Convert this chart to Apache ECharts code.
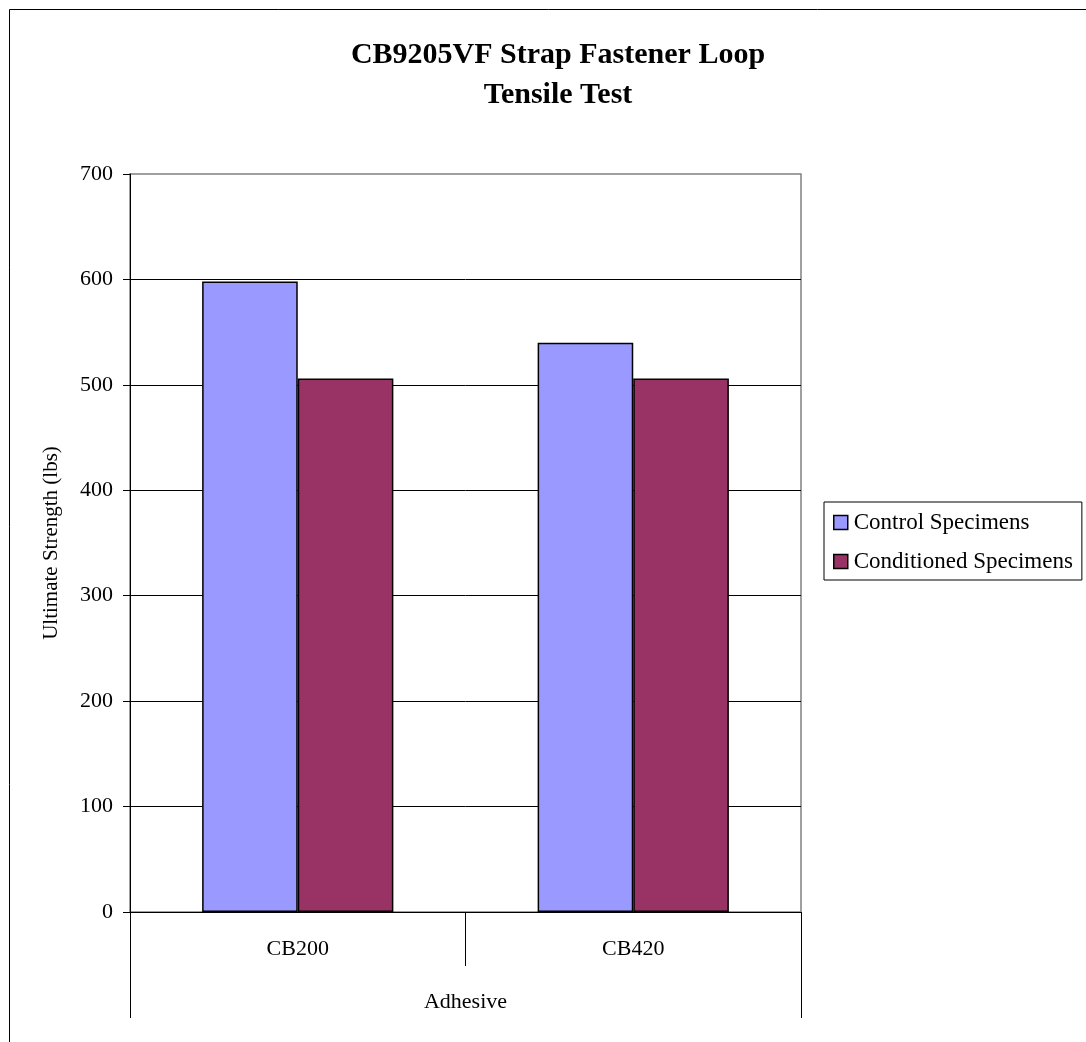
<!DOCTYPE html>
<html>
<head>
<meta charset="utf-8">
<script src="https://cdn.jsdelivr.net/npm/echarts@6/dist/echarts.min.js"></script>
<style>
  html, body { margin: 0; padding: 0; background: #fff; }
  #chart { width: 1086px; height: 1042px; }
</style>
</head>
<body>
<div id="chart"></div>
<script>
// Adhesive groups on the category axis
const categories = ['CB200', 'CB420'];
// Ultimate strength in lbs per specimen set
const controlSpecimens = [598, 540];
const conditionedSpecimens = [506, 506];
// Value axis range
const yMin = 0, yMax = 700, yStep = 100;

const serif = '"Liberation Serif", "Times New Roman", serif';
const chart = echarts.init(document.getElementById('chart'));

chart.setOption({
  backgroundColor: '#fff',
  animation: false,
  title: {
    text: 'CB9205VF Strap Fastener Loop\nTensile Test',
    left: 553, top: 30, textAlign: 'center',
    textStyle: { fontFamily: serif, fontSize: 30, fontWeight: 'bold', color: '#000', lineHeight: 40 }
  },
  legend: {
    orient: 'vertical',
    left: 824, top: 502,
    padding: [9, 9, 7, 9],
    itemGap: 16,
    itemWidth: 14, itemHeight: 14,
    borderColor: '#000', borderWidth: 1,
    icon: 'rect',
    itemStyle: { borderColor: '#000', borderWidth: 1.5 },
    textStyle: { fontFamily: serif, fontSize: 23, color: '#000', padding: [0, 0, 0, 1] },
    data: ['Control Specimens', 'Conditioned Specimens']
  },
  grid: {
    left: 130, right: 285, top: 174, bottom: 130,
    show: true, borderColor: '#808080', borderWidth: 1.5
  },
  xAxis: [
    {
      type: 'category',
      data: categories,
      axisLine: { lineStyle: { color: '#000', width: 1 } },
      axisTick: { show: true, length: 54, inside: false, alignWithLabel: false, lineStyle: { color: '#000' } },
      axisLabel: { fontFamily: serif, fontSize: 22, color: '#000', margin: 26 }
    },
    {
      type: 'category',
      position: 'bottom',
      data: ['Adhesive'],
      axisLine: { show: false },
      axisTick: { show: true, length: 106, lineStyle: { color: '#000' } },
      axisLabel: { fontFamily: serif, fontSize: 22, color: '#000', margin: 79 }
    }
  ],
  yAxis: {
    type: 'value',
    min: yMin, max: yMax, interval: yStep,
    name: 'Ultimate Strength (lbs)',
    nameLocation: 'middle',
    nameGap: 68,
    nameTextStyle: { fontFamily: serif, fontSize: 21, color: '#000' },
    axisLine: { show: true, lineStyle: { color: '#000', width: 1 } },
    axisTick: { show: true, length: 7, lineStyle: { color: '#000' } },
    axisLabel: { fontFamily: serif, fontSize: 22, color: '#000', margin: 17 },
    splitLine: { show: true, showMinLine: false, showMaxLine: false, lineStyle: { color: '#000', width: 1 } }
  },
  series: [
    {
      name: 'Control Specimens',
      type: 'bar',
      xAxisIndex: 0,
      data: controlSpecimens,
      barGap: '0%',
      barCategoryGap: '43%',
      itemStyle: { color: '#9999FF', borderColor: '#000', borderWidth: 1.5 }
    },
    {
      name: 'Conditioned Specimens',
      type: 'bar',
      xAxisIndex: 0,
      data: conditionedSpecimens,
      barGap: '0%',
      barCategoryGap: '43%',
      itemStyle: { color: '#993366', borderColor: '#000', borderWidth: 1.5 }
    }
  ],
  graphic: [
    {
      type: 'rect',
      shape: { x: 9.5, y: 9.5, width: 1200, height: 1200 },
      style: { fill: null, stroke: '#000', lineWidth: 1 },
      silent: true
    }
  ]
});
</script>
</body>
</html>
